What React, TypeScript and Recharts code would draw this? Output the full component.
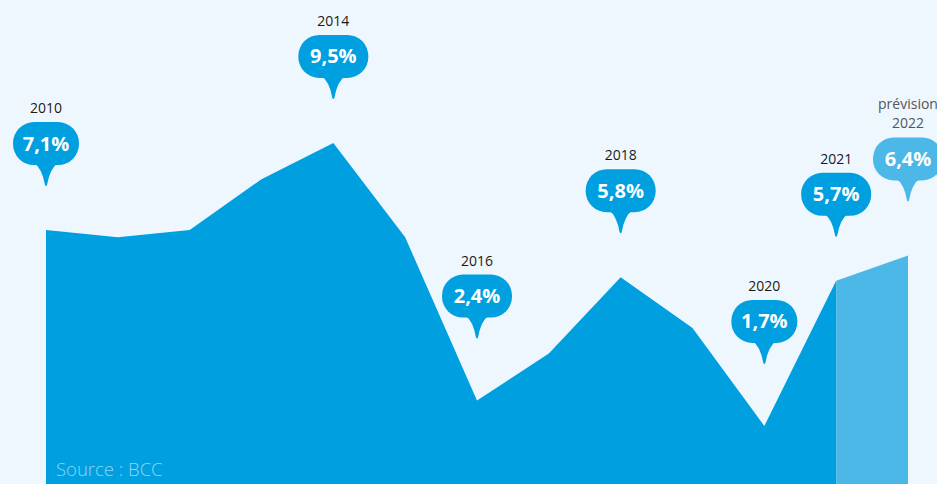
import React from 'react';
import { AreaChart, Area, XAxis, YAxis } from 'recharts';

const years = ['2010', '2011', '2012', '2013', '2014', '2015', '2016', '2017', '2018', '2019', '2020', '2021', '2022'];
const growth = [7.1, 6.9, 7.1, 8.5, 9.5, 6.9, 2.4, 3.7, 5.8, 4.4, 1.7, 5.7, 6.4];
const labeledYears = ['2010', '2014', '2016', '2018', '2020', '2021'];
const forecastYears = ['2021', '2022'];
const forecastLabelYear = '2022';
const forecastCaption = 'prévision';
const sourceText = 'Source : BCC';

const lastActualIndex = years.indexOf(forecastYears[0]);
const data = years.map((year, i) => ({
  year,
  actual: i <= lastActualIndex ? growth[i] : null,
  forecast: forecastYears.includes(year) ? growth[i] : null,
}));

const MAIN = '#009fe0';
const LIGHT = '#4bb8e8';
const BG = '#eef7fe';

const LIFT: Record<string, number> = { '2016': 62, '2020': 62, '2022': 54 };
const DEFAULT_LIFT = 44;

const fmt = (v: number) => v.toFixed(1).replace('.', ',') + '%';
const textWidth = (s: string) =>
  s.split('').reduce((acc, c) => acc + (c === '1' ? 8 : c === ',' ? 5 : c === '%' ? 17 : 12), 0);

function Bubble({ cx, cy, year, value, color, caption }: any) {
  const lift = LIFT[year] ?? DEFAULT_LIFT;
  const tip = cy - lift;
  const bottom = tip - 21;
  const top = bottom - 43;
  const label = fmt(value);
  const w = textWidth(label) + 24;
  const left = cx - w / 2;
  const tail = `M ${cx - 12} ${bottom - 2} Q ${cx - 4} ${bottom + 3} ${cx - 1} ${tip - 1} Q ${cx} ${tip + 1} ${cx + 1} ${tip - 1} Q ${cx + 4} ${bottom + 3} ${cx + 12} ${bottom - 2} Z`;
  return (
    <g>
      <rect x={left} y={top} width={w} height={43} rx={21} ry={21} fill={color} />
      <path d={tail} fill={color} />
      <text
        x={cx}
        y={top + 28.5}
        textAnchor="middle"
        fill="#ffffff"
        fontFamily="'Open Sans', sans-serif"
        fontWeight={700}
        fontSize={20}
      >
        {label}
      </text>
      {caption ? (
        <>
          <text x={cx} y={top - 28} textAnchor="middle" fill="#555" fontFamily="'Open Sans', sans-serif" fontSize={14}>
            {caption}
          </text>
          <text x={cx} y={top - 9} textAnchor="middle" fill="#555" fontFamily="'Open Sans', sans-serif" fontSize={14}>
            {year}
          </text>
        </>
      ) : (
        <text x={cx} y={top - 9} textAnchor="middle" fill="#1a1a1a" fontFamily="'Open Sans', sans-serif" fontSize={14}>
          {year}
        </text>
      )}
    </g>
  );
}

const actualDot = (props: any) => {
  const { cx, cy, index, payload } = props;
  const year = payload?.year ?? years[index];
  if (cy == null || !labeledYears.includes(year)) return <g key={`a-${index}`} />;
  return (
    <g key={`a-${index}`}>
      <Bubble cx={cx} cy={cy} year={year} value={growth[index]} color={MAIN} />
    </g>
  );
};

const forecastDot = (props: any) => {
  const { cx, cy, index, payload } = props;
  const year = payload?.year ?? years[index];
  if (cy == null || year !== forecastLabelYear) return <g key={`f-${index}`} />;
  return (
    <g key={`f-${index}`}>
      <Bubble cx={cx} cy={cy} year={year} value={growth[index]} color={LIGHT} caption={forecastCaption} />
    </g>
  );
};

export default function App() {
  return (
    <div
      style={{
        position: 'absolute',
        left: 0,
        top: 0,
        width: 937,
        height: 484,
        background: BG,
        overflow: 'hidden',
      }}
    >
      <AreaChart width={937} height={484} data={data} margin={{ top: 0, right: 29, bottom: 0, left: 46 }}>
        <XAxis dataKey="year" hide />
        <YAxis hide type="number" domain={[0.1, 13.44]} />
        <Area
          type="linear"
          dataKey="actual"
          stroke="none"
          fill={MAIN}
          fillOpacity={1}
          dot={actualDot}
          activeDot={false}
          isAnimationActive={false}
        />
        <Area
          type="linear"
          dataKey="forecast"
          stroke="none"
          fill={LIGHT}
          fillOpacity={1}
          dot={forecastDot}
          activeDot={false}
          isAnimationActive={false}
        />
      </AreaChart>
      <div
        style={{
          position: 'absolute',
          left: 56,
          top: 456,
          fontFamily: "'Open Sans', sans-serif",
          fontWeight: 300,
          fontSize: 18.5,
          color: '#8dd5f6',
          lineHeight: '26px',
          whiteSpace: 'nowrap',
        }}
      >
        {sourceText}
      </div>
    </div>
  );
}
